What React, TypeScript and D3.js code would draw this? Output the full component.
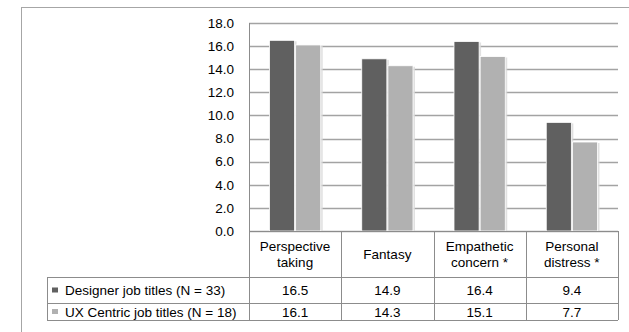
import React from "react";
import * as d3 from "d3";

const categories: string[][] = [
  ["Perspective", "taking"],
  ["Fantasy"],
  ["Empathetic", "concern *"],
  ["Personal", "distress *"],
];
const seriesNames = ["Designer job titles (N = 33)", "UX Centric job titles (N = 18)"];
const designerValues = [16.5, 14.9, 16.4, 9.4];
const uxValues = [16.1, 14.3, 15.1, 7.7];
const yTicks = [0, 2, 4, 6, 8, 10, 12, 14, 16, 18];

const seriesColors = ["#606060", "#b1b1b1"];
const FONT = "'Liberation Sans', Arial, sans-serif";
const FS = 13.5;

export default function App() {
  const W = 629;
  const H = 332;
  const plotLeft = 249;
  const plotRight = 618;
  const plotTop = 23;
  const plotBottom = 231;
  const tableLeft = 47;
  const catRowBottom = 277;
  const row1Bottom = 303;
  const row2Bottom = 320;

  const keys = categories.map((c) => c.join(" "));
  const series = [designerValues, uxValues];

  const x = d3.scaleBand<string>().domain(keys).range([plotLeft, plotRight]).paddingInner(0).paddingOuter(0);
  const xSub = d3
    .scaleBand<number>()
    .domain([0, 1])
    .range([20.5, x.bandwidth() - 20.5])
    .paddingInner(0.04);
  const y = d3.scaleLinear().domain([0, 18]).range([plotBottom, plotTop]);

  const gridColor = "#a3a3a3";
  const borderColor = "#8c8c8c";

  return (
    <svg
      width={W}
      height={H}
      style={{ position: "absolute", left: 0, top: 0, background: "#fff" }}
      fontFamily={FONT}
    >
      {/* chart frame */}
      <rect x={21.5} y={7.5} width={620} height={340} fill="#fff" stroke="#a6a6a6" strokeWidth={1} />

      {/* gridlines */}
      {yTicks.map((t) => (
        <line
          key={"g" + t}
          x1={plotLeft}
          x2={plotRight}
          y1={Math.round(y(t)) + 0.5}
          y2={Math.round(y(t)) + 0.5}
          stroke={gridColor}
          strokeWidth={1.5}
        />
      ))}
      {/* y tick labels */}
      {yTicks.map((t) => (
        <text
          key={"t" + t}
          x={234}
          y={y(t)}
          dy="0.35em"
          textAnchor="end"
          fontSize={FS}
          fill="#000"
        >
          {d3.format(".1f")(t)}
        </text>
      ))}

      {/* bars */}
      {keys.map((k, i) => (
        <g key={k} transform={`translate(${x(k)},0)`}>
          {series.map((vals, s) => {
            const bx = xSub(s)!;
            const bw = xSub.bandwidth();
            const top = y(vals[i]);
            return (
              <g key={s}>
                <rect x={bx + 2} y={top + 1} width={bw} height={plotBottom - top - 1} fill="#d9d9d9" opacity={0.8} />
                <rect
                  x={bx}
                  y={top}
                  width={bw}
                  height={plotBottom - top}
                  fill={seriesColors[s]}
                  stroke="#fff"
                  strokeWidth={0.8}
                />
              </g>
            );
          })}
        </g>
      ))}

      {/* plot left border */}
      <line x1={plotLeft + 0.5} x2={plotLeft + 0.5} y1={plotTop} y2={row2Bottom} stroke={borderColor} strokeWidth={1} />

      {/* data table */}
      <g stroke={borderColor} strokeWidth={1} fill="none">
        <line x1={plotLeft} x2={plotRight} y1={plotBottom + 0.5} y2={plotBottom + 0.5} />
        <line x1={tableLeft} x2={plotRight} y1={catRowBottom + 0.5} y2={catRowBottom + 0.5} />
        <line x1={tableLeft} x2={plotRight} y1={row1Bottom + 0.5} y2={row1Bottom + 0.5} />
        <line x1={tableLeft} x2={plotRight} y1={row2Bottom + 0.5} y2={row2Bottom + 0.5} />
        <line x1={tableLeft + 0.5} x2={tableLeft + 0.5} y1={catRowBottom} y2={row2Bottom} />
        {keys.map((k) => (
          <line
            key={"d" + k}
            x1={Math.round(x(k)! + x.bandwidth()) + 0.5}
            x2={Math.round(x(k)! + x.bandwidth()) + 0.5}
            y1={plotBottom}
            y2={row2Bottom}
          />
        ))}
      </g>

      {/* category labels */}
      {categories.map((lines, i) => {
        const cx = x(keys[i])! + x.bandwidth() / 2;
        const mid = (plotBottom + catRowBottom) / 2;
        const lh = 16;
        return (
          <text key={"c" + i} x={cx} textAnchor="middle" fontSize={FS} fill="#000">
            {lines.map((ln, j) => (
              <tspan key={j} x={cx} y={mid + (j - (lines.length - 1) / 2) * lh} dy="0.35em">
                {ln}
              </tspan>
            ))}
          </text>
        );
      })}

      {/* series rows */}
      {series.map((vals, s) => {
        const rowTop = s === 0 ? catRowBottom : row1Bottom;
        const rowBottom = s === 0 ? row1Bottom : row2Bottom;
        const cy = (rowTop + rowBottom) / 2 + 0.5;
        return (
          <g key={"r" + s}>
            <rect x={52} y={cy - 3} width={6} height={5} fill={seriesColors[s]} />
            <text x={65} y={cy} dy="0.35em" fontSize={FS} fill="#000">
              {seriesNames[s]}
            </text>
            {vals.map((v, i) => (
              <text
                key={i}
                x={x(keys[i])! + x.bandwidth() / 2}
                y={cy}
                dy="0.35em"
                textAnchor="middle"
                fontSize={FS}
                fill="#000"
              >
                {d3.format(".1f")(v)}
              </text>
            ))}
          </g>
        );
      })}
    </svg>
  );
}
